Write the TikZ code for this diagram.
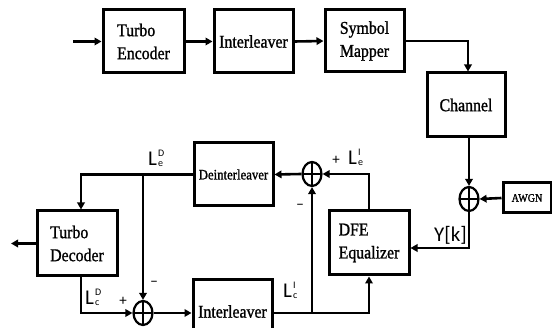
\documentclass[tikz,border=0pt]{standalone}
\usepackage{fontspec}
\usetikzlibrary{arrows.meta,shapes.geometric,calc}
\newfontfamily\boxfont[FakeStretch=0.88,FakeBold=1.2]{Liberation Serif}
\newfontfamily\labfont{Carlito}
\newcommand{\Llab}[2]{L\kern1pt\rlap{\raisebox{9pt}{\fontsize{10}{10}\selectfont #1}}\raisebox{-1pt}{\fontsize{10}{10}\selectfont #2}}
\begin{document}
\begin{tikzpicture}[x=1pt,y=-1pt,
  blk/.style={draw,line width=3pt,minimum height=63pt,inner sep=0pt,font=\boxfont\fontsize{18}{23}\selectfont,align=left},
  sumnode/.style={draw,ellipse,line width=2.2pt,minimum width=19pt,minimum height=24pt,inner sep=0pt,
    path picture={\draw[line width=1.8pt] (path picture bounding box.north)--(path picture bounding box.south)
      (path picture bounding box.west)--(path picture bounding box.east);}},
  conn/.style={line width=2.6pt},
  arr/.style={conn,-{Triangle[length=7pt,width=7.5pt]}},
  lab/.style={font=\labfont\fontsize{21}{21}\selectfont,inner sep=0pt},
  sgn/.style={font=\labfont\fontsize{15}{15}\selectfont,inner sep=0pt}]
\useasboundingbox (0,0) rectangle (552,328);
\clip (0,0) rectangle (552,328);
% blocks
\node[blk,minimum width=81pt] (TE) at (143.5,41.5) {Turbo\\Encoder};
\node[blk,minimum width=79pt] (IL1) at (253.5,41.5) {Interleaver};
\node[blk,minimum width=79pt,minimum height=62pt] (SM) at (364.5,41) {Symbol\\Mapper};
\node[blk,minimum width=78pt,minimum height=64pt] (CH) at (466,105) {Channel};
\node[blk,minimum width=79pt,font=\boxfont\fontsize{14.5}{17}\selectfont] (DI) at (233.5,174.5) {Deinterleaver};
\node[blk,minimum width=80pt,minimum height=65pt] (TD) at (77,243.5) {Turbo\\Decoder};
\node[blk,minimum width=80pt,minimum height=64pt] (DFE) at (369,243) {DFE\\Equalizer};
\node[blk,minimum width=79pt] (IL2) at (232.5,311.5) {Interleaver};
\node[blk,minimum width=48pt,minimum height=30pt,font=\boxfont\fontsize{11.5}{13}\selectfont] (AW) at (527,198) {AWGN};
% summing junctions
\node[sumnode] (S1) at (143,313) {};
\node[sumnode] (S2) at (312,174) {};
\node[sumnode] (S3) at (469,199) {};
% free ends
\coordinate (in) at (73,0);
\coordinate (out) at (11,0);
% connectors
\draw[arr] (in |- TE.west) -- (TE.west);
\draw[arr] (TE.east) -- (IL1.west);
\draw[arr] (IL1.east) -- (SM.west);
\draw[arr] (SM.east) -| ($(CH.north)+(2,0)$);
\draw[arr] (S3.north |- CH.south) -- (S3.north);
\draw[arr] (AW.west) -- (S3.east);
\draw[arr] (S3.south) |- ($(DFE.east)+(0,5)$);
\draw[arr] (DFE.north) |- (S2.east);
\draw[arr] (S2.west) -- (DI.east);
\draw[arr] (DI.west) -| ($(TD.north)+(4,0)$);
\coordinate (j1) at (S1.north |- DI.west);
\draw[arr] (j1) -- (S1.north);
\draw[arr] ($(TD.south)+(4,0)$) |- (S1.west);
\draw[arr] (S1.east) -- (S1.east -| IL2.west);
\draw[arr] (S1.east -| IL2.east) -| (DFE.south);
\coordinate (j2) at (S2.south |- S1.east);
\draw[arr] (j2) -- (S2.south);
\draw[arr] (TD.west) -- (TD.west -| out);
% labels
\node[lab,anchor=base west] (LDe) at (148,166) {\Llab{D}{e}};
\node[lab,anchor=base west] (LDc) at (85,305) {\Llab{D}{c}};
\node[lab,anchor=base west] (LIe) at (348,165) {\Llab{I}{e}};
\node[lab,anchor=base west] (LIc) at (283,298) {\Llab{I}{c}};
\node[lab,anchor=base west] (Yk) at (434,242) {Y[k]};
\node[sgn] (p1) at (123,301) {+};
\node[sgn] (m1) at (154,284) {\textminus};
\node[sgn] (p2) at (336,160) {+};
\node[sgn] (m2) at (300,207) {\textminus};
\end{tikzpicture}
\end{document}
